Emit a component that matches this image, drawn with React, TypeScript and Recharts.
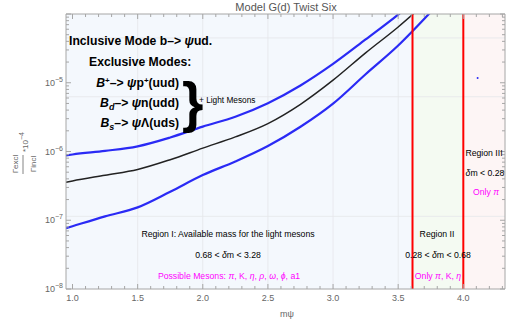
import React from 'react';
import {
  ComposedChart,
  Line,
  XAxis,
  YAxis,
  ReferenceArea,
  ReferenceLine,
  ReferenceDot,
} from 'recharts';

// m_psi grid and the three curves
const mPsi = [0.95, 1.0, 1.25, 1.5, 1.75, 2.0, 2.25, 2.5, 2.75, 3.0, 3.25, 3.5, 3.75];
const upperBand = [8.75e-7, 9.05e-7, 1.02e-6, 1.19e-6, 1.6e-6, 2.3e-6, 3.21e-6, 5.05e-6, 9.14e-6, 1.88e-5, 4.26e-5, 9.8e-5, 2.45e-4];
const central = [3.56e-7, 3.73e-7, 4.52e-7, 5.48e-7, 7.6e-7, 1.12e-6, 1.63e-6, 2.55e-6, 4.86e-6, 1.09e-5, 2.72e-5, 6.48e-5, 1.7e-4];
const lowerBand = [7.65e-8, 8.18e-8, 1.14e-7, 1.54e-7, 2.6e-7, 4.55e-7, 7.16e-7, 1.2e-6, 2.29e-6, 4.97e-6, 1.33e-5, 3.48e-5, 1.07e-4];

// stray point in region III
const strayPoint = { m: 4.11, v: 1.17e-5 };

// region boundaries
const regionEdges = [0.95, 3.61, 4.0, 4.32];
const regionFills = ['#f4f8fd', '#f4faf2', '#fdf5f5'];

// ticks
const xMajorTicks = [1.0, 1.5, 2.0, 2.5, 3.0, 3.5, 4.0];
const xMinorTicks = [
  1.1, 1.2, 1.3, 1.4, 1.6, 1.7, 1.8, 1.9, 2.1, 2.2, 2.3, 2.4, 2.6, 2.7, 2.8, 2.9,
  3.1, 3.2, 3.3, 3.4, 3.6, 3.7, 3.8, 3.9, 4.1, 4.2, 4.3,
];
const yMajorTicks = [1e-8, 1e-7, 1e-6, 1e-5, 1e-4];
const yMajorExp = [-8, -7, -6, -5, -4];
const yLabelled = [true, true, true, true, false];
const yMinorMantissa = [2, 3, 4, 5, 6, 7, 8, 9];
const xGrid = [1.5, 2.0, 2.5, 3.0, 3.5];
const yGrid = [4.49e-5, 6.26e-6, 1.14e-7];

const xTicks = [...xMajorTicks, ...xMinorTicks].sort((a, b) => a - b);
const yMinorTicks = yMajorTicks.slice(0, 4).flatMap((d) => yMinorMantissa.map((k) => k * d));
const yTicks = [...yMajorTicks, ...yMinorTicks].sort((a, b) => a - b);

const data = mPsi.map((m, i) => ({
  m,
  upper: upperBand[i],
  central: central[i],
  lower: lowerBand[i],
}));

const F = "'Liberation Sans', Arial, Helvetica, sans-serif";
const AXIS = '#a6a6a6';
const LABEL = '#666';

const isXMajor = (v: number) => xMajorTicks.some((t) => Math.abs(t - v) < 1e-6);
const yMajorIndex = (v: number) => yMajorTicks.findIndex((t) => Math.abs(t - v) / t < 1e-6);

const XTickBottom = ({ x, y, payload }: any) => {
  const major = isXMajor(payload.value);
  return (
    <g>
      <line x1={x} y1={y} x2={x} y2={y - (major ? 5 : 3)} stroke={AXIS} />
      {major && (
        <text x={x} y={y + 12} textAnchor="middle" fontSize={9} fill={LABEL} fontFamily={F}>
          {Number(payload.value).toFixed(1)}
        </text>
      )}
    </g>
  );
};

const XTickTop = ({ x, y, payload }: any) => {
  const major = isXMajor(payload.value);
  return <line x1={x} y1={y} x2={x} y2={y + (major ? 5 : 3)} stroke={AXIS} />;
};

const YTickLeft = ({ x, y, payload }: any) => {
  const idx = yMajorIndex(payload.value);
  const major = idx >= 0;
  return (
    <g>
      <line x1={x} y1={y} x2={x + (major ? 5 : 3)} y2={y} stroke={AXIS} />
      {major && yLabelled[idx] && (
        <text x={x - 3} y={y + 3} textAnchor="end" fontSize={9} fill={LABEL} fontFamily={F}>
          10
          <tspan dy={-4} fontSize={7}>
            {'\u2212' + Math.abs(yMajorExp[idx])}
          </tspan>
        </text>
      )}
    </g>
  );
};

const YTickRight = ({ x, y, payload }: any) => {
  const major = yMajorIndex(payload.value) >= 0;
  return <line x1={x} y1={y} x2={x - (major ? 5 : 3)} y2={y} stroke={AXIS} />;
};

export default function App() {
  return (
    <div style={{ position: 'absolute', left: 0, top: 0, width: 506, height: 322, background: '#fff' }}>
      <ComposedChart width={506} height={322} data={data} margin={{ top: 13, right: 0, bottom: 0, left: 0 }}>
        <XAxis
          dataKey="m"
          type="number"
          domain={[0.95, 4.32]}
          allowDataOverflow
          ticks={xTicks}
          interval={0}
          tick={<XTickBottom />}
          tickLine={false}
          tickSize={0}
          tickMargin={0}
          height={33}
          axisLine={{ stroke: AXIS }}
        />
        <XAxis
          xAxisId="top"
          orientation="top"
          dataKey="m"
          type="number"
          domain={[0.95, 4.32]}
          allowDataOverflow
          ticks={xTicks}
          interval={0}
          tick={<XTickTop />}
          tickLine={false}
          tickSize={0}
          tickMargin={0}
          height={1}
          axisLine={{ stroke: AXIS }}
        />
        <YAxis
          scale="log"
          type="number"
          domain={[1e-8, 1e-4]}
          allowDataOverflow
          ticks={yTicks}
          interval={0}
          tick={<YTickLeft />}
          tickLine={false}
          tickSize={0}
          tickMargin={0}
          width={66}
          axisLine={{ stroke: AXIS }}
        />
        <YAxis
          yAxisId="right"
          orientation="right"
          scale="log"
          type="number"
          domain={[1e-8, 1e-4]}
          allowDataOverflow
          ticks={yTicks}
          interval={0}
          tick={<YTickRight />}
          tickLine={false}
          tickSize={0}
          tickMargin={0}
          width={1}
          axisLine={{ stroke: AXIS }}
        />

        {regionFills.map((c, i) => (
          <ReferenceArea
            key={'r' + i}
            x1={regionEdges[i]}
            x2={regionEdges[i + 1]}
            y1={1e-8}
            y2={1e-4}
            fill={c}
            fillOpacity={1}
            stroke="none"
          />
        ))}
        {xGrid.map((v) => (
          <ReferenceLine key={'gx' + v} x={v} stroke="#e4e6ea" strokeWidth={0.8} />
        ))}
        {yGrid.map((v) => (
          <ReferenceLine key={'gy' + v} y={v} stroke="#e4e6ea" strokeWidth={0.8} />
        ))}

        <Line dataKey="upper" type="monotone" stroke="#2a2af5" strokeWidth={2.2} dot={false} isAnimationActive={false} />
        <Line dataKey="central" type="monotone" stroke="#222" strokeWidth={1.5} dot={false} isAnimationActive={false} />
        <Line dataKey="lower" type="monotone" stroke="#2a2af5" strokeWidth={2.2} dot={false} isAnimationActive={false} />

        <ReferenceLine x={regionEdges[1]} stroke="#ff0000" strokeWidth={2} />
        <ReferenceLine x={regionEdges[2]} stroke="#ff0000" strokeWidth={2} />
        <ReferenceDot x={strayPoint.m} y={strayPoint.v} r={1} fill="#2a2af5" stroke="none" />
      </ComposedChart>

      <svg
        width={506}
        height={322}
        style={{ position: 'absolute', left: 0, top: 0, pointerEvents: 'none' }}
        fontFamily={F}
      >
        <text x={286} y={11} textAnchor="middle" fontSize={11} fill="#555">
          Model G(d) Twist Six
        </text>
        <text x={287} y={317} textAnchor="middle" fontSize={9} fill={LABEL}>
          m<tspan>ψ</tspan>
        </text>

        <g transform="translate(23,164) rotate(-90)" fill={LABEL} fontSize={8}>
          <text x={0} y={-5} textAnchor="middle">Γexcl</text>
          <line x1={-10} y1={0} x2={9} y2={0} stroke={LABEL} strokeWidth={0.8} />
          <text x={0} y={13} textAnchor="middle">Γincl</text>
          <text x={12} y={5}>
            *10<tspan dy={-4} fontSize={7}>−4</tspan>
          </text>
        </g>

        <g fontWeight="bold" fontSize={12.2} fill="#000">
          <text x={69} y={45}>
            Inclusive Mode b–&gt; <tspan fontStyle="italic">ψ</tspan>ud.
          </text>
          <text x={89} y={66}>Exclusive Modes:</text>
          <text x={179} y={87} textAnchor="end">
            <tspan fontStyle="italic">B</tspan>
            <tspan dy={-4} fontSize={8}>+</tspan>
            <tspan dy={4}>–&gt; </tspan>
            <tspan fontStyle="italic">ψ</tspan>p<tspan dy={-4} fontSize={8}>+</tspan>
            <tspan dy={4}>(uud)</tspan>
          </text>
          <text x={179} y={107} textAnchor="end">
            <tspan fontStyle="italic">B</tspan>
            <tspan dy={3} fontSize={9} fontStyle="italic">d</tspan>
            <tspan dy={-3}>–&gt; </tspan>
            <tspan fontStyle="italic">ψ</tspan>n(udd)
          </text>
          <text x={179} y={127} textAnchor="end">
            <tspan fontStyle="italic">B</tspan>
            <tspan dy={3} fontSize={9} fontStyle="italic">s</tspan>
            <tspan dy={-3}>–&gt; </tspan>
            <tspan fontStyle="italic">ψ</tspan>Λ(uds)
          </text>
          <text x={182} y={121} fontSize={55}>
            {'}'}
          </text>
        </g>
        <text x={199} y={103} fontSize={8.3} fill="#000">
          + Light Mesons
        </text>

        <g fontSize={8.7} textAnchor="middle" fill="#000">
          <text x={228} y={237}>Region I: Available mass for the light mesons</text>
          <text x={228} y={258}>
            0.68 &lt; <tspan fontStyle="italic">δ</tspan>m &lt; 3.28
          </text>
          <text x={229} y={279} fill="#ff00ff">
            Possible Mesons: <tspan fontStyle="italic">π</tspan>, K, <tspan fontStyle="italic">η</tspan>,{' '}
            <tspan fontStyle="italic">ρ</tspan>, <tspan fontStyle="italic">ω</tspan>,{' '}
            <tspan fontStyle="italic">ϕ</tspan>, a1
          </text>

          <text x={437} y={237}>Region II</text>
          <text x={438} y={258}>
            0.28 &lt; <tspan fontStyle="italic">δ</tspan>m &lt; 0.68
          </text>
          <text x={438} y={279} fill="#ff00ff">
            Only <tspan fontStyle="italic">π</tspan>, K, <tspan fontStyle="italic">η</tspan>
          </text>

          <text x={484} y={156}>Region III</text>
          <text x={485} y={176}>
            <tspan fontStyle="italic">δ</tspan>m &lt; 0.28
          </text>
          <text x={486} y={195} fill="#ff00ff">
            Only <tspan fontStyle="italic">π</tspan>
          </text>
        </g>
      </svg>
    </div>
  );
}
